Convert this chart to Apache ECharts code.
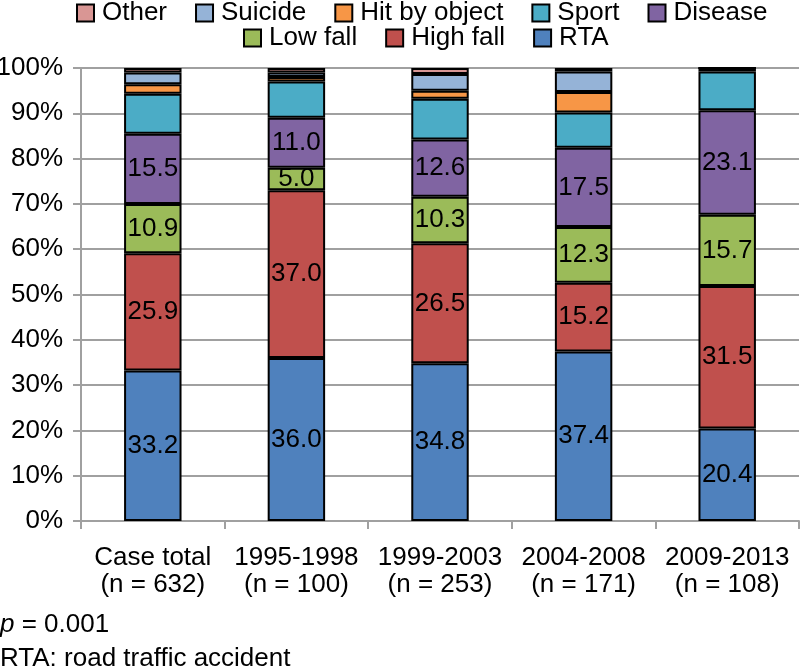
<!DOCTYPE html>
<html>
<head>
<meta charset="utf-8">
<script src="https://cdn.jsdelivr.net/npm/echarts@6/dist/echarts.min.js"></script>
<style>html,body{margin:0;padding:0;background:#fff}#c{width:800px;height:670px}</style>
</head>
<body>
<div id="c"></div>
<script>
const categories = ['Case total', '1995-1998', '1999-2003', '2004-2008', '2009-2013'];
const counts = ['(n = 632)', '(n = 100)', '(n = 253)', '(n = 171)', '(n = 108)'];
const yTicks = [0, 10, 20, 30, 40, 50, 60, 70, 80, 90, 100];

const rta = [33.2, 36.0, 34.8, 37.4, 20.4];
const highFall = [25.9, 37.0, 26.5, 15.2, 31.5];
const lowFall = [10.9, 5.0, 10.3, 12.3, 15.7];
const disease = [15.5, 11.0, 12.6, 17.5, 23.1];
const sport = [8.8, 8.0, 9.0, 7.8, 8.5];
const hitByObject = [2.1, 1.0, 1.8, 4.5, 0.8];
const suicide = [2.6, 1.0, 3.7, 4.5, 0];
const other = [1.0, 1.0, 1.3, 0.8, 0];

const FONT = 'Arial, "Liberation Sans", sans-serif';
const FS = 26;

function mk(name, data, color, labeled) {
  return {
    name, type: 'bar', stack: 'all', data, barWidth: '40%',
    itemStyle: { color, borderColor: '#000', borderWidth: 2 },
    label: labeled ? {
      show: true, position: 'inside', color: '#000', fontSize: FS, fontFamily: FONT,
      formatter: p => Number(p.value).toFixed(1)
    } : { show: false },
    emphasis: { disabled: true }
  };
}

const series = [
  mk('RTA', rta, '#4F81BD', true),
  mk('High fall', highFall, '#C0504D', true),
  mk('Low fall', lowFall, '#9BBB59', true),
  mk('Disease', disease, '#8064A2', true),
  mk('Sport', sport, '#4BACC6', false),
  mk('Hit by object', hitByObject, '#F79646', false),
  mk('Suicide', suicide, '#95B3D7', false),
  mk('Other', other, '#D99694', false)
];

const legendCommon = {
  orient: 'horizontal', padding: 0, itemWidth: 17, itemHeight: 17, itemGap: 28, icon: 'rect',
  textStyle: { fontSize: FS, fontFamily: FONT, color: '#000', padding: [0, 0, 0, 3] },
  itemStyle: { borderColor: '#000', borderWidth: 2 },
  selectedMode: false
};

const chart = echarts.init(document.getElementById('c'), null, { renderer: 'canvas' });
chart.setOption({
  animation: false,
  textStyle: { fontFamily: FONT },
  legend: [
    Object.assign({}, legendCommon, { left: 76, top: 0, data: ['Other', 'Suicide', 'Hit by object', 'Sport', 'Disease'] }),
    Object.assign({}, legendCommon, { left: 243, top: 25, data: ['Low fall', 'High fall', 'RTA'] })
  ],
  title: [
    { text: '{i|p} = 0.001', left: 0, top: 612, padding: 0,
      textStyle: { fontSize: FS, fontWeight: 'normal', fontFamily: FONT, color: '#000',
        rich: { i: { fontStyle: 'italic', fontSize: FS, fontFamily: FONT, color: '#000' } } } },
    { text: 'RTA: road traffic accident', left: 0, top: 646, padding: 0,
      textStyle: { fontSize: FS, fontWeight: 'normal', fontFamily: FONT, color: '#000' } }
  ],
  grid: { left: 81, right: 1, top: 68, bottom: 149, containLabel: false, outerBoundsMode: 'none' },
  xAxis: {
    type: 'category',
    data: categories.map((c, i) => c + '\n' + counts[i]),
    axisLine: { show: true, lineStyle: { color: '#A0A0A0', width: 2 } },
    axisTick: { show: true, length: 8, alignWithLabel: false, lineStyle: { color: '#A0A0A0', width: 2 } },
    axisLabel: { color: '#000', fontSize: FS, fontFamily: FONT, margin: 23, lineHeight: 27, interval: 0 }
  },
  yAxis: {
    type: 'value', min: yTicks[0], max: yTicks[yTicks.length - 1], interval: yTicks[1] - yTicks[0],
    axisLine: { show: true, lineStyle: { color: '#A0A0A0', width: 2 } },
    axisTick: { show: true, length: 8, lineStyle: { color: '#A0A0A0', width: 2 } },
    axisLabel: { color: '#000', fontSize: FS, fontFamily: FONT, margin: 18, formatter: '{value}%' },
    splitLine: { show: true, lineStyle: { color: '#A0A0A0', width: 2 } }
  },
  series
});
</script>
</body>
</html>
